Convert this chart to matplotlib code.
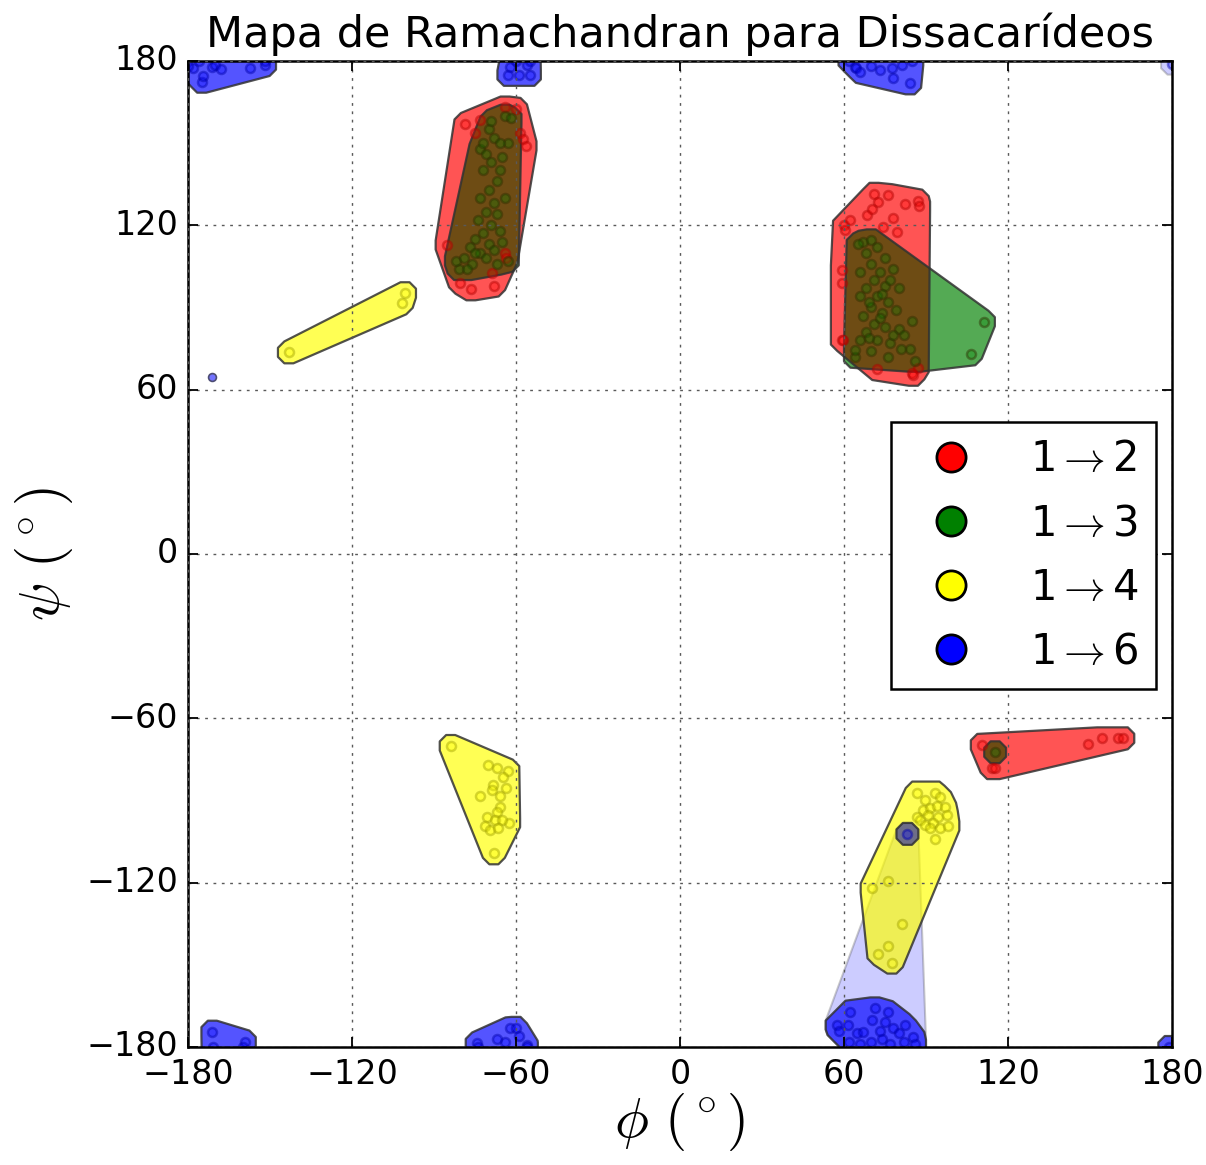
import numpy as np
import matplotlib
matplotlib.use("Agg")
import matplotlib.pyplot as plt
from matplotlib.patches import Polygon
from matplotlib.lines import Line2D

plt.style.use("classic")
plt.rcParams["mathtext.fontset"] = "cm"
plt.rcParams["font.family"] = ["DejaVu Sans"]

# (phi, psi) conformations, one list per cluster

# 1->2
red_a = [(-78.5, 157), (-73, 158.4), (-75, 153.6), (-64, 163), (-60, 162.5), (-58.5, 153.6),
         (-57.3, 151.4), (-56.5, 149), (-80.5, 99), (-76.5, 96.6), (-85.4, 112.8), (-64, 109.8),
         (-68.9, 102.7), (-63.5, 108), (-68, 98)]
red_b = [(60, 120), (71, 131.5), (76, 131), (87, 129), (87.5, 127), (87, 68), (85, 66),
         (72, 67.5), (59.5, 78), (72.6, 128.6), (82.3, 127.8), (68.3, 123.8), (70.1, 125.8),
         (62.2, 121.9), (78, 122.5), (79.3, 117.7), (74.4, 119.5), (59.2, 103.7), (59.2, 98.8),
         (59.2, 78.1), (85.4, 65.4), (60.4, 118.3)]
red_c = [(110.4, -69.7), (149.4, -69.4), (154.3, -67.3), (160.4, -67.3), (162.2, -67.3),
         (114, -78.2), (115.3, -78.2)]

# 1->3
green_a = [(-64, 160), (-62, 159), (-63, 150), (-63, 107), (-67, 106), (-81, 104), (-82, 107),
           (-73, 148), (-70, 155), (-68, 152), (-66, 150), (-71, 146), (-69, 143), (-66, 140),
           (-72, 140), (-67, 136), (-70, 133), (-73, 130), (-68, 128), (-71, 125), (-74, 122),
           (-69, 120), (-66, 118), (-72, 117), (-75, 115), (-70, 113), (-77, 112), (-73, 110),
           (-79, 108), (-76, 106), (-71, 108), (-68, 111), (-65, 114), (-67, 124), (-64, 130),
           (-65, 145), (-69, 158), (-72, 150), (-75, 110), (-78, 104)]
green_b = [(67, 114), (70, 114.5), (111.2, 84.8), (106.4, 72.9), (86, 70.5), (64, 72), (64, 74.5),
           (65, 113), (68, 110), (72, 112), (75, 108), (70, 106), (66, 103), (73, 103), (78, 104),
           (71, 100), (68, 97), (75, 98), (80, 97), (66, 94), (72, 94), (76, 92), (70, 90),
           (67, 87), (74, 88), (79, 89), (71, 84), (68, 81), (75, 83), (80, 82), (66, 78),
           (72, 78), (77, 77), (70, 74), (84, 75), (76, 72), (82, 80), (85, 85), (69, 92),
           (73, 86), (78, 80), (74, 95), (77, 100), (69, 79), (81, 75)]
green_c = [(115.3, -72.4)]

# 1->4
yellow_d = [(86.6, -87.1), (89.6, -89.8), (93.3, -87.1), (95.1, -88.6), (89, -93.5), (91.5, -92.8),
            (93.9, -92), (97, -92.5), (86.6, -95.9), (87.8, -97.1), (90.9, -95.3), (94.5, -95.9),
            (97.6, -95.3), (89.6, -98.9), (92.7, -98.3), (95.1, -100.1), (98.2, -99.3),
            (91.5, -100.1), (93.3, -104.2), (70.1, -122), (76.2, -119.3), (81.1, -135.1),
            (76.2, -143.1), (72.6, -146), (77.5, -149.2)]
yellow_e = [(-143.1, 73.6), (-100.6, 95.2), (-101.8, 91.5)]
yellow_f = [(-83.9, -70.1), (-68.1, -109.3), (-62.8, -79.1), (-62.5, -98.1), (-70.1, -77),
            (-67.1, -78.2), (-64.7, -81.3), (-68.3, -84.3), (-68.9, -86.2), (-63.7, -85.3),
            (-73.2, -88.4), (-65.9, -88.4), (-65.9, -92.3), (-67.1, -94.1), (-70.7, -96.1),
            (-67.7, -97.1), (-65.2, -97.1), (-71.3, -99.3), (-69.5, -100.8), (-66.5, -100.1)]

# 1->6
blue_single = [(83.2, -102.2)]
blue_bottom = [(57.3, -172), (61.6, -172), (62.2, -167.1), (71.3, -165.9), (76.2, -167.3),
               (70.1, -170.1), (82.3, -172), (85.4, -176.2), (64.7, -175), (67.1, -174.4),
               (78, -173.2), (80, -175), (74, -177), (70, -178), (77, -179), (82, -178),
               (86, -179), (66, -179), (62, -178), (58, -174), (73, -174), (75, -171)]
blue_top_right = [(64, 177.9), (73.2, 176.7), (77.5, 177.3), (78, 173.7), (84.2, 171.8),
                  (81.1, 178.5), (62, 180), (85, 180), (64.5, 177.5), (70, 178), (66, 176)]
blue_top_left = [(-178, 177.3), (-175, 172.4), (-174.4, 174.5), (-171.3, 177.9), (-157.3, 177.6),
                 (-151.8, 178.5), (-180, 178), (-176, 180), (-170, 178.5), (-168, 177), (-152, 180)]
blue_top_mid = [(-62.2, 177.9), (-62.8, 174.9), (-58.8, 174.9), (-54.9, 174.9), (-56.1, 178.5),
                (-60, 180), (-55, 180)]
blue_bottom_left = [(-171.1, -174.4), (-159.2, -178), (-171, -180), (-160, -180)]
blue_bottom_mid = [(-62.2, -173.2), (-74.4, -178.7), (-64, -178), (-56.1, -179.3), (-60, -173),
                   (-74, -180), (-56, -180), (-67, -177), (-59, -176)]
blue_corner = [(179, -180)]
blue_faint_corner = [(180, 179)]
blue_lone = [(-171.1, 64.7)]

legend_labels = ["1$\\rightarrow$2", "1$\\rightarrow$3", "1$\\rightarrow$4", "1$\\rightarrow$6"]
legend_colors = ["red", "green", "yellow", "blue"]

red_hulls = [red_a, red_b, red_c]
green_hulls = [green_a, green_b, green_c]
yellow_hulls = [yellow_d, yellow_e, yellow_f]
blue_hulls = [blue_single, blue_bottom, blue_top_right, blue_top_left, blue_top_mid,
              blue_bottom_left, blue_bottom_mid, blue_corner]
faint_blue_hulls = [blue_single + blue_bottom, blue_faint_corner]

pt_edge = {"red": "#b00000", "green": "#2e2e00", "yellow": "#a0a000", "blue": "#0000aa"}

R = 4.0
ang = np.deg2rad(22.5 + 45 * np.arange(8))
octo = np.c_[np.cos(ang), np.sin(ang)] * R / np.cos(np.deg2rad(22.5))


def hull(points):
    pts = np.asarray(points, float)
    pts = (pts[:, None, :] + octo[None, :, :]).reshape(-1, 2)
    pts = sorted(set(map(tuple, np.round(pts, 6))))

    def cross(o, a, b):
        return (a[0] - o[0]) * (b[1] - o[1]) - (a[1] - o[1]) * (b[0] - o[0])

    lower, upper = [], []
    for p in pts:
        while len(lower) >= 2 and cross(lower[-2], lower[-1], p) <= 0:
            lower.pop()
        lower.append(p)
    for p in reversed(pts):
        while len(upper) >= 2 and cross(upper[-2], upper[-1], p) <= 0:
            upper.pop()
        upper.append(p)
    return np.array(lower[:-1] + upper[:-1])


fig = plt.figure(figsize=(12.06, 11.65), dpi=100, facecolor="white")
ax = fig.add_axes([0.1559, 0.1013, 0.8159, 0.8464])
ax.set_facecolor("white")

# faint hulls
for pts in faint_blue_hulls:
    ax.add_patch(Polygon(hull(pts), closed=True, facecolor=(0, 0, 1, 0.2),
                         edgecolor=(0.3, 0.3, 0.3, 0.3), linewidth=1.5, joinstyle="round", zorder=1))

patches = {}
for name, groups in [("red", red_hulls), ("green", green_hulls),
                     ("yellow", yellow_hulls), ("blue", blue_hulls)]:
    patches[name] = []
    rgb = matplotlib.colors.to_rgb(name)
    for pts in groups:
        p = Polygon(hull(pts), closed=True, facecolor=rgb + (0.67,), edgecolor="none", zorder=1.2)
        ax.add_patch(p)
        patches[name].append(p)

# overlapping regions
for top, under, col in [(green_hulls, "red", "#6e4c14"), (blue_hulls, "yellow", "#6e6e88")]:
    for pts in top:
        for clip in patches[under]:
            ov = Polygon(hull(pts), closed=True, facecolor=col, edgecolor="none", zorder=1.4)
            ax.add_patch(ov)
            ov.set_clip_path(clip)

# outlines
for groups in [red_hulls, green_hulls, yellow_hulls, blue_hulls]:
    for pts in groups:
        ax.add_patch(Polygon(hull(pts), closed=True, fill=False, edgecolor=(0.2, 0.2, 0.2, 0.85),
                             linewidth=1.6, joinstyle="round", zorder=1.6))

# points
for name, groups in [("red", red_hulls), ("green", green_hulls),
                     ("yellow", yellow_hulls), ("blue", blue_hulls + [blue_faint_corner])]:
    rgb = matplotlib.colors.to_rgb(name)
    for pts in groups:
        arr = np.asarray(pts)
        ax.scatter(arr[:, 0], arr[:, 1], s=42, facecolor=rgb + (0.3,),
                   edgecolor=matplotlib.colors.to_rgba(pt_edge[name], 0.45), linewidth=1.8, zorder=1.8)

lone = np.asarray(blue_lone)
ax.scatter(lone[:, 0], lone[:, 1], s=32, facecolor=(0.45, 0.45, 1.0), edgecolor=(0.3, 0.3, 0.45),
           linewidth=1.2, zorder=1.8)

ax.set_xlim(-180, 180)
ax.set_ylim(-180, 180)
ticks = list(range(-180, 181, 60))
ax.set_xticks(ticks)
ax.set_yticks(ticks)
ax.grid(True, color="0.35", linestyle=(0, (2, 4)), linewidth=1.0)
ax.set_axisbelow(False)
ax.tick_params(labelsize=24, length=7, width=1.3, direction="in", top=True, right=True)
ax.tick_params(axis="x", pad=8)
ax.tick_params(axis="y", pad=7)
for sp in ax.spines.values():
    sp.set_linewidth(1.8)

ax.set_title("Mapa de Ramachandran para Dissacarídeos", fontsize=31, pad=10)
ax.set_xlabel("$\\phi\\ (^\\circ)$", fontsize=41, labelpad=0)
ax.set_ylabel("$\\psi\\ (^\\circ)$", fontsize=41, labelpad=8)

handles = [Line2D([], [], linestyle="none", marker="o", markersize=21, markerfacecolor=c,
                  markeredgecolor="black", markeredgewidth=2) for c in legend_colors]
leg = ax.legend(handles, legend_labels, loc="upper left", bbox_to_anchor=(0.7144, 0.634),
                numpoints=1, fontsize=30, handlelength=2.08, handletextpad=0.86, borderpad=0.4,
                labelspacing=0.53, borderaxespad=0, fancybox=False, framealpha=1)
leg.get_frame().set_edgecolor("black")
leg.get_frame().set_linewidth(1.8)
leg.set_zorder(5)

fig.savefig("out.png", dpi=100, facecolor="white")
